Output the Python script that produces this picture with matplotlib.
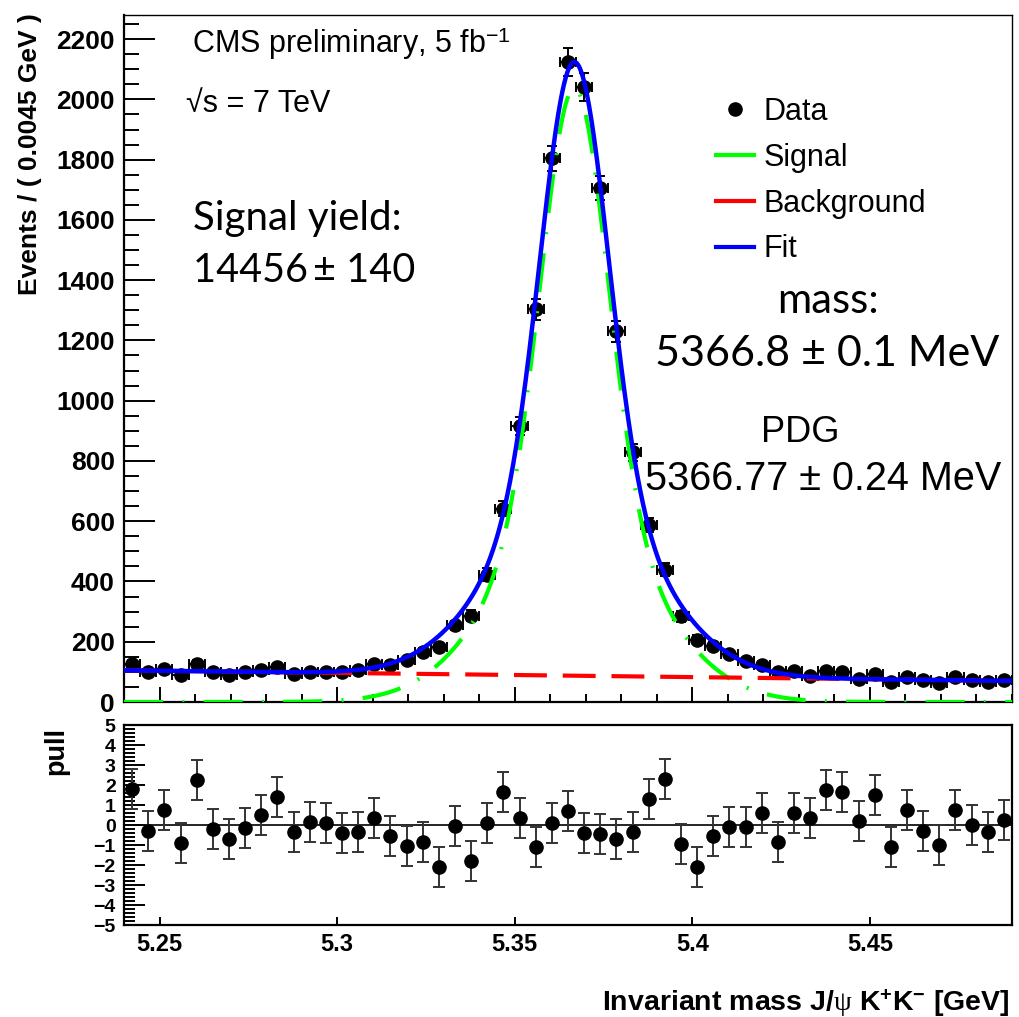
import numpy as np
import matplotlib
matplotlib.use("Agg")
import matplotlib.pyplot as plt
from matplotlib.ticker import MultipleLocator
from matplotlib.lines import Line2D

plt.rcParams['font.family'] = ['Liberation Sans', 'DejaVu Sans']
plt.rcParams['mathtext.fontset'] = 'custom'
plt.rcParams['mathtext.rm'] = 'Liberation Sans'
plt.rcParams['mathtext.bf'] = 'Liberation Sans:bold'
plt.rcParams['mathtext.it'] = 'Liberation Serif'

# ---------------- data ----------------
X_RANGE = (5.24, 5.49)
N_BINS = 55

counts = [127, 99, 109, 90, 127, 98, 90, 98, 105, 115,
          93, 99, 99, 98, 106, 126, 124, 138, 166, 182,
          254, 287, 423, 641, 916, 1303, 1804, 2123, 2041, 1706,
          1231, 829, 588, 439, 284, 207, 187, 159, 135, 124,
          98, 102, 85, 102, 98, 77, 94, 65, 83, 72,
          63, 83, 74, 68, 74]

pulls = [1.78, -0.30, 0.75, -0.92, 2.23, -0.20, -0.70, -0.17, 0.48, 1.38,
         -0.37, 0.15, 0.08, -0.40, -0.37, 0.37, -0.55, -1.03, -0.83, -2.12,
         -0.05, -1.80, 0.12, 1.67, 0.33, -1.10, 0.08, 0.68, -0.38, -0.45,
         -0.68, -0.37, 1.32, 2.28, -0.95, -2.08, -0.55, -0.12, -0.10, 0.58,
         -0.83, 0.58, 0.33, 1.75, 1.67, 0.22, 1.50, -1.10, 0.77, -0.28,
         -1.00, 0.75, 0.00, -0.37, 0.27]

# fit model parameters (double Gaussian signal + linear background)
SIG_MEAN = 5.3668
SIG_PEAK = 2037.0
SIG_SIGMA_CORE = 0.0093
SIG_SIGMA_TAIL = 0.0215
SIG_CORE_FRAC = 0.70
BKG_AT_XMIN = 105.0
BKG_SLOPE = -140.0

legend_labels = ["Data", "Signal", "Background", "Fit"]

# ---------------- derived ----------------
counts = np.array(counts, dtype=float)
pulls = np.array(pulls)
edges = np.linspace(X_RANGE[0], X_RANGE[1], N_BINS + 1)
centers = 0.5 * (edges[:-1] + edges[1:])
half_bin = 0.5 * (edges[1] - edges[0])

xx = np.linspace(X_RANGE[0], X_RANGE[1], 1500)
sig = SIG_PEAK * (SIG_CORE_FRAC * np.exp(-0.5 * ((xx - SIG_MEAN) / SIG_SIGMA_CORE) ** 2)
                  + (1 - SIG_CORE_FRAC) * np.exp(-0.5 * ((xx - SIG_MEAN) / SIG_SIGMA_TAIL) ** 2))
bkg = BKG_AT_XMIN + BKG_SLOPE * (xx - X_RANGE[0])
fit = sig + bkg

W, H = 1019, 1017
fig = plt.figure(figsize=(W / 100, H / 100), dpi=100)
ax = fig.add_axes([124 / W, 1 - 702 / H, 888 / W, 687 / H])
axp = fig.add_axes([124 / W, 1 - 925 / H, 888 / W, 200 / H])

GREEN, RED, BLUE = '#00ff00', '#ff0000', '#0000ff'

# ---------------- main panel ----------------
ax.errorbar(centers, counts, xerr=half_bin, yerr=np.sqrt(counts), fmt='o',
            color='black', ms=9.5, elinewidth=1.4, capsize=3.5, capthick=1.4, zorder=2)
ax.plot(xx, sig, color=GREEN, lw=3, dashes=(9.4, 4.6, 0.5, 4.6), zorder=3)
ax.plot(xx, bkg, color=RED, lw=3, dashes=(7.9, 3.8), zorder=3)
ax.plot(xx, fit, color=BLUE, lw=3.2, zorder=4)

ax.set_xlim(*X_RANGE)
ax.set_ylim(0, 2280)
ax.xaxis.set_major_locator(MultipleLocator(0.05))
ax.xaxis.set_minor_locator(MultipleLocator(0.01))
ax.yaxis.set_major_locator(MultipleLocator(200))
ax.yaxis.set_minor_locator(MultipleLocator(50))
ax.tick_params(which='both', direction='in', top=False, right=False, width=1.4)
ax.tick_params(axis='y', which='major', length=22, pad=6.5, labelsize=19)
ax.tick_params(axis='y', which='minor', length=11)
ax.tick_params(axis='x', which='major', length=11, labelbottom=False)
ax.tick_params(axis='x', which='minor', length=6)
for lab in ax.get_yticklabels():
    lab.set_fontweight('bold')
for s in ['left', 'bottom']:
    ax.spines[s].set_linewidth(1.6)
for s in ['top', 'right']:
    ax.spines[s].set_linewidth(1.0)

handles = [Line2D([], [], marker='o', color='black', ls='none', ms=9.5),
           Line2D([], [], color=GREEN, lw=3),
           Line2D([], [], color=RED, lw=3),
           Line2D([], [], color=BLUE, lw=3)]
ax.legend(handles, legend_labels, loc='upper left', bbox_to_anchor=(0.6665, 0.881),
          frameon=False, fontsize=22, handlelength=1.25, handletextpad=0.3,
          labelspacing=0.52, borderpad=0, borderaxespad=0)

def ftext(x, y, s, **kw):
    fig.text(x / W, 1 - y / H, s, **kw)

ftext(192, 53, "CMS preliminary, 5 fb$^{-1}$", fontsize=22, va='baseline')
ftext(186, 112, "\u221As = 7 TeV", fontsize=22, va='baseline')
ftext(193, 230, "Signal yield:", fontsize=29, family=['Lato', 'DejaVu Sans'], va='baseline')
ftext(193, 282, "14456\u2009\u00b1 140", fontsize=28.5, family=['Lato', 'DejaVu Sans'], va='baseline')
ftext(828, 313, "mass:", fontsize=30, family=['Lato', 'DejaVu Sans'], va='baseline', ha='center')
ftext(827, 366, "5366.8 \u00b1 0.1 MeV", fontsize=31, family=['Lato', 'DejaVu Sans'],
      va='baseline', ha='center')
ftext(800, 442, "PDG", fontsize=26, va='baseline', ha='center')
ftext(823, 490, "5366.77 \u00b1 0.24 MeV", fontsize=28.5, va='baseline', ha='center')

ftext(30, 13, "Events / ( 0.0045 GeV )", fontsize=19, fontweight='bold',
      rotation=90, ha='center', va='top')

# ---------------- pull panel ----------------
axp.axhline(0, color='black', lw=1.2, zorder=1)
axp.errorbar(centers, pulls, yerr=np.ones_like(pulls), fmt='o', color='black',
             ecolor='#333333', ms=9.5, elinewidth=1.4, capsize=4, capthick=1.4, zorder=3)
axp.set_xlim(*X_RANGE)
axp.set_ylim(-5, 5)
axp.xaxis.set_major_locator(MultipleLocator(0.05))
axp.yaxis.set_major_locator(MultipleLocator(1))
axp.yaxis.set_minor_locator(MultipleLocator(0.2))
axp.tick_params(which='both', direction='in', top=False, right=False, width=1.4)
axp.tick_params(axis='y', which='major', length=15, pad=6, labelsize=14)
axp.tick_params(axis='y', which='minor', length=8)
axp.tick_params(axis='x', which='major', length=6, pad=6, labelsize=17)
axp.set_xticks([5.25, 5.30, 5.35, 5.40, 5.45])
axp.set_xticklabels(["5.25", "5.3", "5.35", "5.4", "5.45"])
for lab in axp.get_yticklabels() + axp.get_xticklabels():
    lab.set_fontweight('bold')
for s in axp.spines.values():
    s.set_linewidth(1.6)

ftext(56, 727, "pull", fontsize=19.5, fontweight='bold', rotation=90, ha='center', va='top')
ftext(1010, 1010, r"Invariant mass J/$\psi$ K$^{\mathbf{+}}$K$^{\mathbf{-}}$ [GeV]",
      fontsize=20.5, fontweight='bold', ha='right', va='baseline')

fig.savefig("out.png", dpi=100)
